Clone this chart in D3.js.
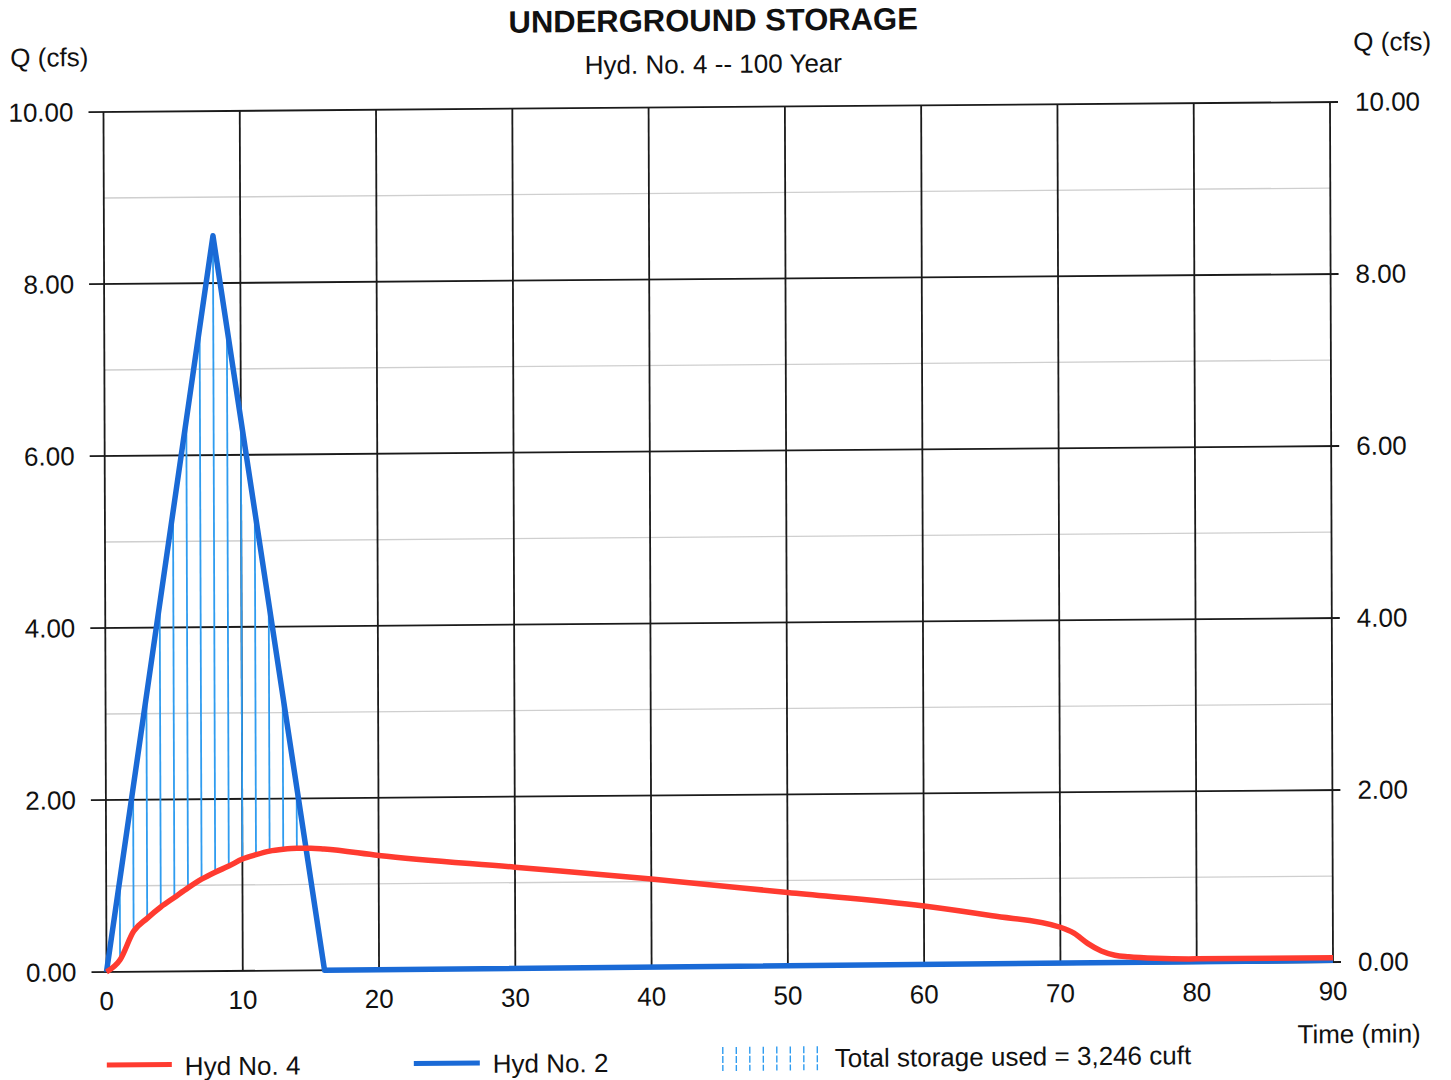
<!DOCTYPE html>
<html>
<head>
<meta charset="utf-8">
<script src="https://cdn.jsdelivr.net/npm/d3@7"></script>
<style>
	body { margin: 0; background: #ffffff; }
	text { font-family: "Liberation Sans", Arial, sans-serif; fill: #111; }
</style>
</head>
<body>
<svg id="svg_canvas" width="1451" height="1080"></svg>
<script>
// Hyd No. 4 (outflow, red)
var outTime = [0, 1, 2, 3, 4, 5, 6, 7, 8, 9, 10, 11, 12, 13, 14, 15, 16, 20, 30, 40, 50, 60, 65, 70, 71, 72, 73, 74, 75, 77, 80, 90];
var outFlow = [0, 0.14, 0.47, 0.62, 0.75, 0.86, 0.97, 1.07, 1.15, 1.22, 1.30, 1.35, 1.39, 1.41, 1.42, 1.42, 1.41, 1.33, 1.18, 1.03, 0.86, 0.69, 0.57, 0.43, 0.36, 0.24, 0.15, 0.10, 0.08, 0.06, 0.05, 0.05];

// Hyd No. 2 (inflow, blue)
var inTime = [0, 8, 16, 90];
var inFlow = [0, 8.55, 0, 0.02];

// minutes where storage hatching is drawn
var hatchTime = [1, 2, 3, 4, 5, 6, 7, 8, 9, 10, 11, 12, 13, 14];

var xTicks = [0, 10, 20, 30, 40, 50, 60, 70, 80, 90];
var yTicks = [0, 2, 4, 6, 8, 10];
var yMinor = [1, 3, 5, 7, 9];

var RED = "#ff3b30";
var BLUE = "#1a6ad6";
var HATCH = "#2f9cf0";
var FS = "26px";

function lookup(times, values, t) {
	var i = d3.bisectRight(times, t) - 1;
	if (i >= times.length - 1) return values[values.length - 1];
	var f = (t - times[i]) / (times[i + 1] - times[i]);
	return values[i] + f * (values[i + 1] - values[i]);
}

function draw() {
	var svg = d3.select("#svg_canvas");
	svg.append("rect").attr("width", 1451).attr("height", 1080).attr("fill", "#fff");

	// the scanned sheet is a little skewed
	var g = svg.append("g")
		.attr("transform", "translate(720,540) matrix(1,-0.0081,0.0035,1,0,0) translate(-720,-540)");

	var left = 105, right = 1331.5, top = 107, bottom = 967;

	var x = d3.scaleLinear().domain([0, 90]).range([left, right]);
	var y = d3.scaleLinear().domain([0, 10]).range([bottom, top]);

	// minor grid
	g.selectAll("line.minor")
		.data(yMinor)
		.enter()
		.append("line")
		.attr("class", "minor")
		.attr("x1", left).attr("x2", right)
		.attr("y1", function(d) { return y(d); })
		.attr("y2", function(d) { return y(d); })
		.style("stroke", "#cfcfcf")
		.style("stroke-width", 1.3);

	// major grid, y
	g.selectAll("line.hgrid")
		.data(yTicks)
		.enter()
		.append("line")
		.attr("class", "hgrid")
		.attr("x1", left - 15).attr("x2", right + 8)
		.attr("y1", function(d) { return y(d); })
		.attr("y2", function(d) { return y(d); })
		.style("stroke", "#1a1a1a")
		.style("stroke-width", 1.8);

	// major grid, x
	g.selectAll("line.vgrid")
		.data(xTicks)
		.enter()
		.append("line")
		.attr("class", "vgrid")
		.attr("x1", function(d) { return x(d); })
		.attr("x2", function(d) { return x(d); })
		.attr("y1", top).attr("y2", bottom)
		.style("stroke", "#1a1a1a")
		.style("stroke-width", 1.8);

	// tick labels
	var fmt = d3.format(".2f");
	g.selectAll("text.yl")
		.data(yTicks)
		.enter()
		.append("text")
		.attr("class", "yl")
		.attr("x", left - 30)
		.attr("y", function(d) { return y(d) + 9; })
		.attr("text-anchor", "end")
		.style("font-size", FS)
		.text(fmt);

	g.selectAll("text.yr")
		.data(yTicks)
		.enter()
		.append("text")
		.attr("class", "yr")
		.attr("x", right + 25)
		.attr("y", function(d) { return y(d) + 9; })
		.style("font-size", FS)
		.text(fmt);

	g.selectAll("text.xl")
		.data(xTicks)
		.enter()
		.append("text")
		.attr("class", "xl")
		.attr("x", function(d) { return x(d); })
		.attr("y", bottom + 38)
		.attr("text-anchor", "middle")
		.style("font-size", FS)
		.text(function(d) { return d; });

	// storage hatching
	g.selectAll("line.hatch")
		.data(hatchTime)
		.enter()
		.append("line")
		.attr("class", "hatch")
		.attr("x1", function(d) { return x(d); })
		.attr("x2", function(d) { return x(d); })
		.attr("y1", function(d) { return y(lookup(inTime, inFlow, d)); })
		.attr("y2", function(d) { return y(lookup(outTime, outFlow, d)); })
		.style("stroke", HATCH)
		.style("stroke-width", 1.8);

	var inLine = d3.line()
		.x(function(d, i) { return x(inTime[i]); })
		.y(function(d) { return y(d); });

	var outLine = d3.line()
		.x(function(d, i) { return x(outTime[i]); })
		.y(function(d) { return y(d); })
		.curve(d3.curveMonotoneX);

	g.append("path")
		.attr("d", inLine(inFlow))
		.style("fill", "none")
		.style("stroke", BLUE)
		.style("stroke-width", 5.5)
		.style("stroke-linejoin", "round");

	g.append("path")
		.attr("d", outLine(outFlow))
		.style("fill", "none")
		.style("stroke", RED)
		.style("stroke-width", 5.5)
		.style("stroke-linejoin", "round");

	// titles
	g.append("text")
		.attr("x", 715).attr("y", 31)
		.attr("text-anchor", "middle")
		.style("font-size", "31px")
		.style("font-weight", "bold")
		.text("UNDERGROUND STORAGE");

	g.append("text")
		.attr("x", 715).attr("y", 73)
		.attr("text-anchor", "middle")
		.style("font-size", FS)
		.text("Hyd. No. 4 -- 100 Year");

	g.append("text")
		.attr("x", 12).attr("y", 61)
		.style("font-size", FS)
		.text("Q (cfs)");

	g.append("text")
		.attr("x", 1355).attr("y", 56)
		.style("font-size", FS)
		.text("Q (cfs)");

	g.append("text")
		.attr("x", 1419).attr("y", 1048)
		.attr("text-anchor", "end")
		.style("font-size", FS)
		.text("Time (min)");

	// legend
	var legend = g.append("g");
	legend.append("line")
		.attr("x1", 105).attr("x2", 170).attr("y1", 1060).attr("y2", 1060)
		.style("stroke", RED).style("stroke-width", 5);
	legend.append("text")
		.attr("x", 183).attr("y", 1071)
		.style("font-size", FS)
		.text("Hyd No. 4");

	legend.append("line")
		.attr("x1", 412).attr("x2", 478).attr("y1", 1061).attr("y2", 1061)
		.style("stroke", BLUE).style("stroke-width", 5);
	legend.append("text")
		.attr("x", 491).attr("y", 1071)
		.style("font-size", FS)
		.text("Hyd No. 2");

	legend.selectAll("line.lh")
		.data(d3.range(8))
		.enter()
		.append("line")
		.attr("class", "lh")
		.attr("x1", function(d) { return 721 + d * 13.5; })
		.attr("x2", function(d) { return 721 + d * 13.5; })
		.attr("y1", 1047).attr("y2", 1071)
		.style("stroke", HATCH)
		.style("stroke-width", 1.4)
		.style("stroke-dasharray", "7,2");
	legend.append("text")
		.attr("x", 833).attr("y", 1068)
		.style("font-size", FS)
		.text("Total storage used = 3,246 cuft");
}

draw();
</script>
</body>
</html>
